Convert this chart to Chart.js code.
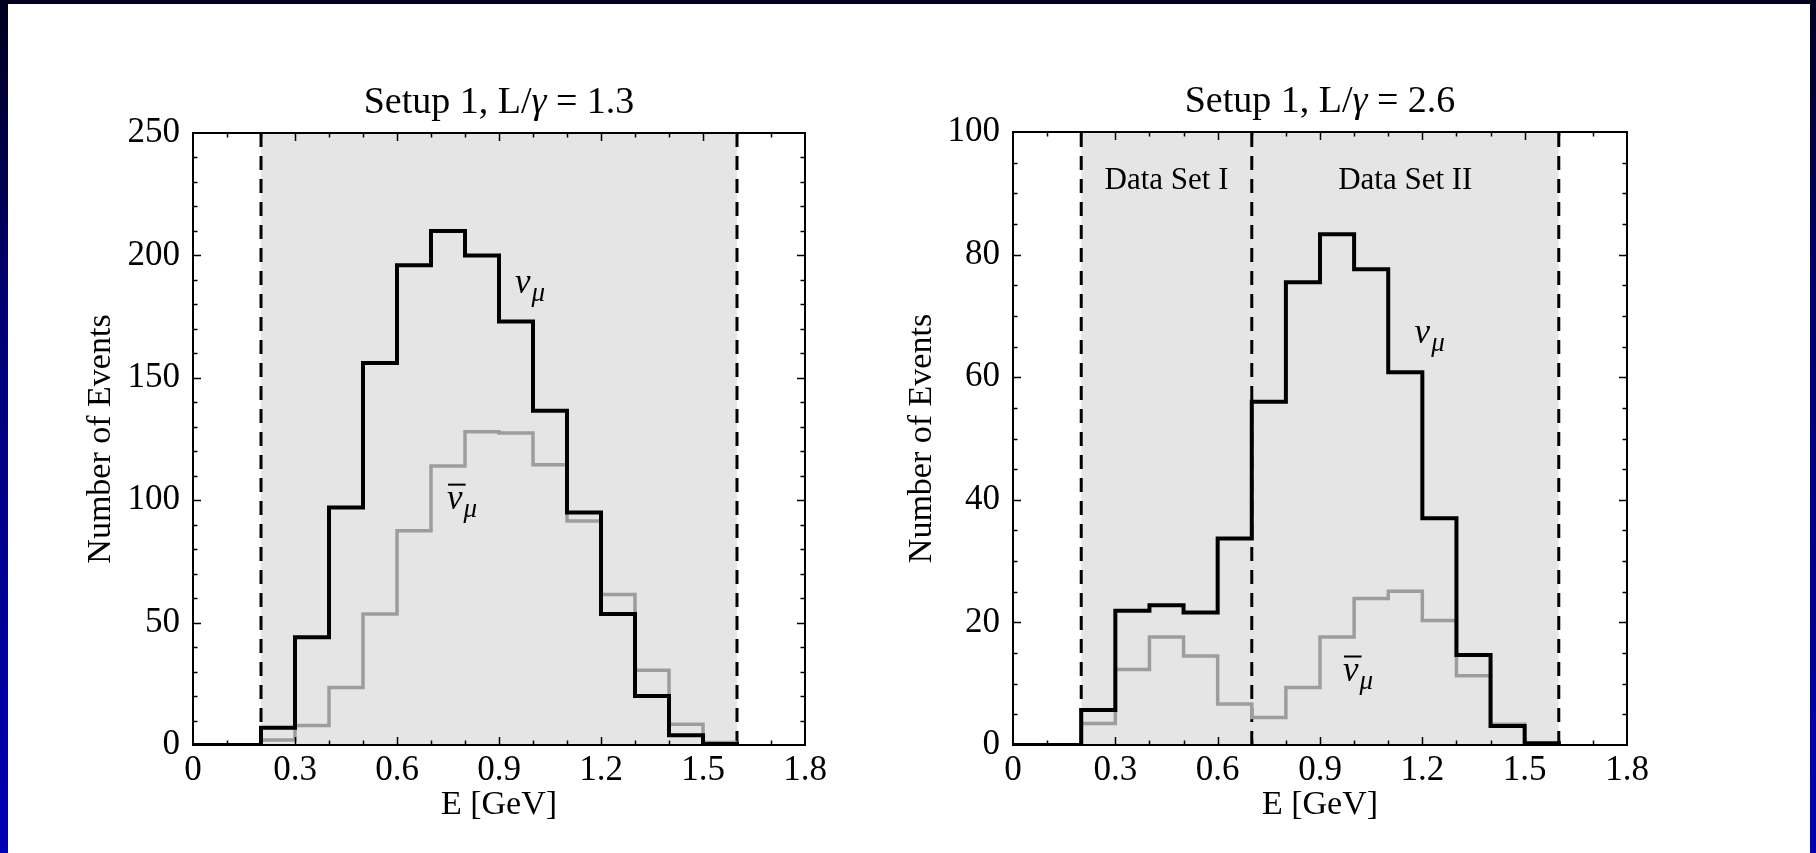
<!DOCTYPE html>
<html>
<head>
<meta charset="utf-8">
<script src="https://cdn.jsdelivr.net/npm/chart.js@4.4.0/dist/chart.umd.min.js"></script>
<style>
  html, body { margin: 0; padding: 0; }
  body {
    width: 1816px; height: 853px; overflow: hidden; position: relative;
    background: linear-gradient(to bottom, #00001e 0%, #000070 35%, #0000b4 100%);
  }
  #panel { position: absolute; left: 8px; top: 4px; width: 1802px; height: 849px; background: #fff; }
  .box { position: absolute; top: 0; }
  #box1 { left: 10px; }
  #box2 { left: 840px; }
</style>
</head>
<body>
<div id="panel"></div>
<div class="box" id="box1"><canvas id="c1" width="830" height="853"></canvas></div>
<div class="box" id="box2"><canvas id="c2" width="960" height="853"></canvas></div>
<script>
// bin edges in GeV (0.1 GeV bins)
var binEdges = [0, 0.1, 0.2, 0.3, 0.4, 0.5, 0.6, 0.7, 0.8, 0.9, 1.0, 1.1, 1.2, 1.3, 1.4, 1.5, 1.6];

// Setup 1, L/gamma = 1.3
var numuA  = [0, 0, 7, 44, 97, 156, 196, 210, 200, 173, 136.5, 95, 53.5, 20, 4, 0.4];
var nubarA = [0, 0, 2, 8, 23.5, 53.5, 87.5, 114, 128, 127.5, 114.5, 91.5, 61.5, 30.5, 8.5, 1];

// Setup 1, L/gamma = 2.6
var numuB  = [0, 0, 5.7, 21.9, 22.8, 21.6, 33.7, 56, 75.5, 83.3, 77.6, 60.8, 37, 14.7, 3.1, 0.3];
var nubarB = [0, 0, 3.5, 12.3, 17.6, 14.5, 6.7, 4.5, 9.4, 17.6, 23.9, 25.1, 20.3, 11.3, 3.4, 0.2];

// energy cuts (dashed lines) and shaded window
var cutsA = [0.2, 1.6];
var cutsB = [0.2, 0.7, 1.6];
var windowE = [0.2, 1.6];

// axis ticks
var xTickStep = 0.3, xMinorStep = 0.1, xMax = 1.8;
var yMaxA = 250, yStepA = 50, yMinorA = 10;
var yMaxB = 100, yStepB = 20, yMinorB = 5;

Chart.defaults.font.family = "'Liberation Serif', 'Times New Roman', serif";
Chart.defaults.color = '#000';

function steps(counts) {
  var pts = [];
  for (var i = 0; i < counts.length; i++) {
    pts.push({ x: binEdges[i], y: counts[i] });
  }
  pts.push({ x: binEdges[counts.length], y: 0 });
  return pts;
}

function cutLines(cuts, ymax) {
  return cuts.map(function (c) {
    return {
      data: [{ x: c, y: 0 }, { x: c, y: ymax }],
      borderColor: '#000', borderWidth: 3, borderDash: [14, 9],
      pointRadius: 0, order: 2
    };
  });
}

// frame with inward ticks on all four sides
var frameTicks = {
  id: 'frameTicks',
  afterDatasetsDraw: function (chart, args, opts) {
    var ctx = chart.ctx, a = chart.chartArea;
    var xs = chart.scales.x, ys = chart.scales.y;
    ctx.save();
    ctx.strokeStyle = '#000';
    ctx.lineWidth = 1.5;
    ctx.beginPath();
    var n = Math.round((xs.max - xs.min) / opts.xMinor);
    for (var k = 1; k < n; k++) {
      var v = xs.min + k * opts.xMinor;
      var px = Math.round(xs.getPixelForValue(v)) + 0.5;
      var r = (k * opts.xMinor) / opts.xMajor;
      var len = Math.abs(r - Math.round(r)) < 1e-6 ? 8 : 4.5;
      ctx.moveTo(px, a.bottom); ctx.lineTo(px, a.bottom - len);
      ctx.moveTo(px, a.top); ctx.lineTo(px, a.top + len);
    }
    var m = Math.round((ys.max - ys.min) / opts.yMinor);
    for (var j = 1; j < m; j++) {
      var w = ys.min + j * opts.yMinor;
      var py = Math.round(ys.getPixelForValue(w)) + 0.5;
      var len2 = (j * opts.yMinor) % opts.yMajor === 0 ? 8 : 4.5;
      ctx.moveTo(a.left, py); ctx.lineTo(a.left + len2, py);
      ctx.moveTo(a.right, py); ctx.lineTo(a.right - len2, py);
    }
    ctx.stroke();
    ctx.lineWidth = 2;
    ctx.strokeRect(a.left, a.top, a.right - a.left, a.bottom - a.top);
    ctx.restore();
  }
};

// title and in-plot labels
var textLabels = {
  id: 'textLabels',
  afterDraw: function (chart, args, opts) {
    var ctx = chart.ctx, a = chart.chartArea;
    var xs = chart.scales.x, ys = chart.scales.y;
    var fam = Chart.defaults.font.family;
    ctx.save();
    ctx.fillStyle = '#000';
    ctx.textBaseline = 'middle';
    // title with italic gamma
    var runs = opts.title, total = 0;
    runs.forEach(function (r) {
      ctx.font = (r[1] ? 'italic ' : '') + '38px ' + fam;
      total += ctx.measureText(r[0]).width;
    });
    var tx = (a.left + a.right) / 2 - total / 2;
    runs.forEach(function (r) {
      ctx.font = (r[1] ? 'italic ' : '') + '38px ' + fam;
      ctx.textAlign = 'left';
      ctx.fillText(r[0], tx, a.top - 30);
      tx += ctx.measureText(r[0]).width;
    });
    // plain labels
    ctx.font = '31px ' + fam;
    ctx.textAlign = 'center';
    (opts.plain || []).forEach(function (p) {
      ctx.fillText(p.text, xs.getPixelForValue(p.x), ys.getPixelForValue(p.y));
    });
    // neutrino labels
    ctx.textBaseline = 'alphabetic';
    ctx.textAlign = 'left';
    (opts.nu || []).forEach(function (p) {
      ctx.font = 'italic 35px ' + fam;
      var wNu = ctx.measureText('\u03bd').width;
      ctx.font = 'italic 27px ' + fam;
      var wMu = ctx.measureText('\u03bc').width;
      var x0 = xs.getPixelForValue(p.x) - (wNu + wMu) / 2;
      var y0 = ys.getPixelForValue(p.y) + 6;
      ctx.font = 'italic 35px ' + fam;
      ctx.fillText('\u03bd', x0, y0);
      ctx.font = 'italic 27px ' + fam;
      ctx.fillText('\u03bc', x0 + wNu + 1, y0 + 8);
      if (p.bar) {
        ctx.lineWidth = 2;
        ctx.beginPath();
        ctx.moveTo(x0 + 1, y0 - 24);
        ctx.lineTo(x0 + wNu + 3, y0 - 24);
        ctx.stroke();
      }
    });
    ctx.restore();
  }
};

function makeChart(id, cfg) {
  var datasets = [
    {
      data: [{ x: windowE[0], y: cfg.yMax }, { x: windowE[1], y: cfg.yMax }],
      fill: 'start', backgroundColor: '#e5e5e5', borderWidth: 0,
      pointRadius: 0, order: 3
    }
  ].concat(cutLines(cfg.cuts, cfg.yMax)).concat([
    {
      data: steps(cfg.nubar), stepped: true, borderColor: '#9d9d9d',
      borderWidth: 3.5, pointRadius: 0, fill: false, order: 1,
      borderJoinStyle: 'miter'
    },
    {
      data: steps(cfg.numu), stepped: true, borderColor: '#000',
      borderWidth: 4, pointRadius: 0, fill: false, order: 0,
      borderJoinStyle: 'miter'
    }
  ]);

  return new Chart(document.getElementById(id).getContext('2d'), {
    type: 'line',
    data: { datasets: datasets },
    plugins: [frameTicks, textLabels],
    options: {
      responsive: false,
      animation: false,
      events: [],
      layout: { padding: { left: 0, right: cfg.padRight, top: cfg.padTop, bottom: 0 } },
      plugins: {
        legend: { display: false },
        tooltip: { enabled: false },
        title: { display: false },
        frameTicks: { xMajor: xTickStep, xMinor: xMinorStep, yMajor: cfg.yStep, yMinor: cfg.yMinor },
        textLabels: { title: cfg.title, plain: cfg.plain, nu: cfg.nu }
      },
      scales: {
        x: {
          type: 'linear', min: 0, max: xMax,
          grid: { display: false }, border: { display: false },
          ticks: { stepSize: xTickStep, padding: -3, font: { size: 35 }, maxRotation: 0 },
          title: { display: true, text: 'E [GeV]', font: { size: 34 }, padding: { top: 0, bottom: 28 } },
          afterFit: function (s) { s.height = 108; }
        },
        y: {
          min: 0, max: cfg.yMax,
          grid: { display: false }, border: { display: false },
          ticks: { stepSize: cfg.yStep, padding: 5, font: { size: 35 } },
          title: { display: true, text: 'Number of Events', font: { size: 34 }, padding: { top: cfg.yTitlePad, bottom: 0 } },
          afterFit: function (s) { s.width = cfg.yWidth; }
        }
      }
    }
  });
}

makeChart('c1', {
  numu: numuA, nubar: nubarA, cuts: cutsA,
  yMax: yMaxA, yStep: yStepA, yMinor: yMinorA,
  padRight: 35, padTop: 133, yWidth: 183, yTitlePad: 71,
  title: [['Setup 1, L/', false], ['\u03b3', true], [' = 1.3', false]],
  plain: [],
  nu: [{ x: 0.99, y: 187, bar: false }, { x: 0.79, y: 99, bar: true }]
});

makeChart('c2', {
  numu: numuB, nubar: nubarB, cuts: cutsB,
  yMax: yMaxB, yStep: yStepB, yMinor: yMinorB,
  padRight: 173, padTop: 132, yWidth: 173, yTitlePad: 62,
  title: [['Setup 1, L/', false], ['\u03b3', true], [' = 2.6', false]],
  plain: [{ x: 0.45, y: 92, text: 'Data Set I' }, { x: 1.15, y: 92, text: 'Data Set II' }],
  nu: [{ x: 1.22, y: 66.5, bar: false }, { x: 1.01, y: 11.5, bar: true }]
});
</script>
</body>
</html>
